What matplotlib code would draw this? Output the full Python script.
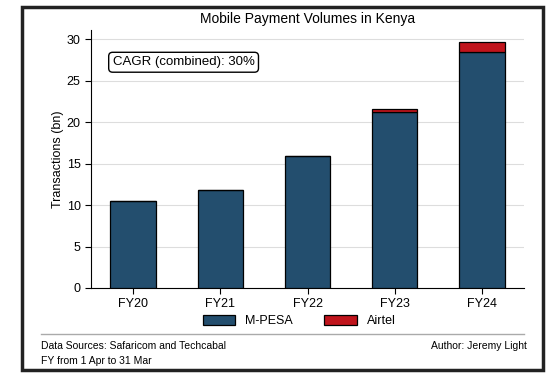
import matplotlib
matplotlib.use("Agg")
import matplotlib.pyplot as plt
from matplotlib.patches import Rectangle
from matplotlib.lines import Line2D

plt.rcParams['font.family'] = ['Liberation Sans', 'DejaVu Sans']

years = ['FY20', 'FY21', 'FY22', 'FY23', 'FY24']
mpesa = [10.5, 11.8, 15.9, 21.2, 28.4]
airtel = [0.0, 0.0, 0.0, 0.35, 1.2]
mpesa_color = '#234e6e'
airtel_color = '#c0141c'

fig = plt.figure(figsize=(5.54, 3.78), dpi=100)
ax = fig.add_axes([91 / 554, 1 - 288 / 378, (524 - 91) / 554, (288 - 30) / 378])

x = list(range(len(years)))
ax.bar(x, mpesa, width=0.52, color=mpesa_color, edgecolor='black', linewidth=0.9, label='M-PESA', zorder=3)
ax.bar(x, airtel, width=0.52, bottom=mpesa, color=airtel_color, edgecolor='black', linewidth=0.9,
       label='Airtel', zorder=3)

ax.set_xlim(-0.48, 4.48)
ax.set_ylim(0, 31.1)
ax.set_yticks([0, 5, 10, 15, 20, 25, 30])
ax.set_xticks(x)
ax.set_xticklabels(years)
ax.tick_params(labelsize=9, length=4, width=0.8)
ax.grid(axis='y', color='#dddddd', linewidth=0.8, zorder=0)
ax.spines['top'].set_visible(False)
ax.spines['right'].set_visible(False)
ax.set_ylabel('Transactions (bn)', fontsize=9, labelpad=2)
ax.set_title('Mobile Payment Volumes in Kenya', fontsize=10, pad=5)

ax.text(0.05, 0.875, 'CAGR (combined): 30%', transform=ax.transAxes, fontsize=9.5,
        va='center', ha='left',
        bbox=dict(boxstyle='round,pad=0.3', facecolor='white', edgecolor='black', linewidth=1))

fig.legend(loc='center', bbox_to_anchor=(0.54, 1 - 321 / 378), ncol=2, frameon=False,
           fontsize=9, handlelength=2.6, handleheight=0.9, columnspacing=2.5)

# outer frame
fig.patches.append(Rectangle((22 / 554, 1 - 370 / 378), (543 - 22) / 554, (370 - 7) / 378,
                             transform=fig.transFigure, fill=False, edgecolor='#222222', linewidth=2.5))
fig.lines.append(Line2D([41 / 554, 524 / 554], [1 - 334 / 378, 1 - 334 / 378],
                        transform=fig.transFigure, color='#aaaaaa', linewidth=1))

fig.text(41 / 554, 1 - 346 / 378, 'Data Sources: Safaricom and Techcabal', fontsize=7.5, va='center')
fig.text(41 / 554, 1 - 361 / 378, 'FY from 1 Apr to 31 Mar', fontsize=7.5, va='center')
fig.text(527 / 554, 1 - 346 / 378, 'Author: Jeremy Light', fontsize=7.5, va='center', ha='right')

fig.savefig('out.png', dpi=100)
